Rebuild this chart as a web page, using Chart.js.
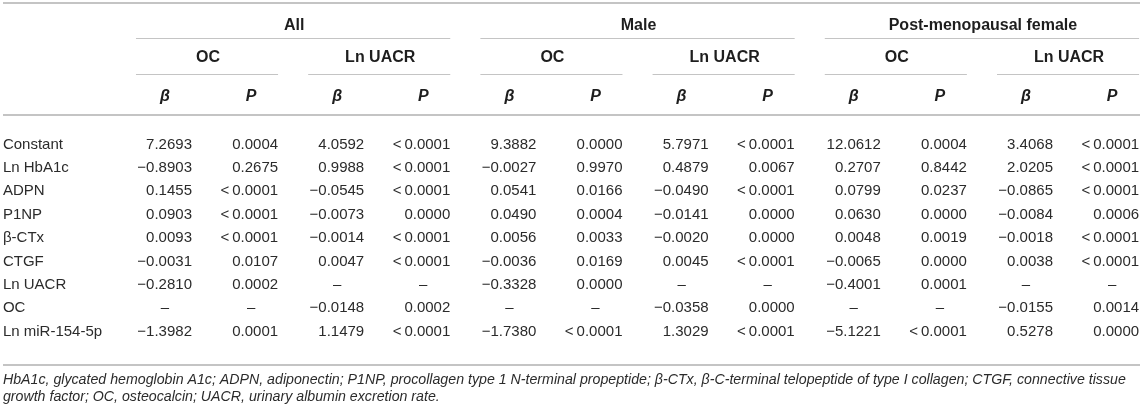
<!DOCTYPE html>
<html>
<head>
<meta charset="utf-8">
<script src="https://cdn.jsdelivr.net/npm/chart.js@4.4.1/dist/chart.umd.min.js"></script>
<style>
  html, body { margin: 0; padding: 0; background: #fff; }
  #wrap { width: 1143px; height: 407px; position: relative; }
</style>
</head>
<body>
<div id="wrap"><canvas id="tbl"></canvas></div>
<script>
// rows and column headings
const rowLabels = ["Constant", "Ln HbA1c", "ADPN", "P1NP", "β-CTx", "CTGF", "Ln UACR", "OC", "Ln miR-154-5p"];
const groups = ["All", "Male", "Post-menopausal female"];
const outcomes = ["OC", "Ln UACR"];
const statHeads = ["β", "P"];

// beta values (null = not in model) and P values, one array per column
const allOcBeta    = [7.2693, -0.8903, 0.1455, 0.0903, 0.0093, -0.0031, -0.2810, null, -1.3982];
const allOcP       = ["0.0004", "0.2675", "<0.0001", "<0.0001", "<0.0001", "0.0107", "0.0002", null, "0.0001"];
const allUacrBeta  = [4.0592, 0.9988, -0.0545, -0.0073, -0.0014, 0.0047, null, -0.0148, 1.1479];
const allUacrP     = ["<0.0001", "<0.0001", "<0.0001", "0.0000", "<0.0001", "<0.0001", null, "0.0002", "<0.0001"];
const maleOcBeta   = [9.3882, -0.0027, 0.0541, 0.0490, 0.0056, -0.0036, -0.3328, null, -1.7380];
const maleOcP      = ["0.0000", "0.9970", "0.0166", "0.0004", "0.0033", "0.0169", "0.0000", null, "<0.0001"];
const maleUacrBeta = [5.7971, 0.4879, -0.0490, -0.0141, -0.0020, 0.0045, null, -0.0358, 1.3029];
const maleUacrP    = ["<0.0001", "0.0067", "<0.0001", "0.0000", "0.0000", "<0.0001", null, "0.0000", "<0.0001"];
const postOcBeta   = [12.0612, 0.2707, 0.0799, 0.0630, 0.0048, -0.0065, -0.4001, null, -5.1221];
const postOcP      = ["0.0004", "0.8442", "0.0237", "0.0000", "0.0019", "0.0000", "0.0001", null, "<0.0001"];
const postUacrBeta = [3.4068, 2.0205, -0.0865, -0.0084, -0.0018, 0.0038, null, -0.0155, 0.5278];
const postUacrP    = ["<0.0001", "<0.0001", "<0.0001", "0.0006", "<0.0001", "<0.0001", null, "0.0014", "0.0000"];

const footnote = [
  "HbA1c, glycated hemoglobin A1c; ADPN, adiponectin; P1NP, procollagen type 1 N-terminal propeptide; β-CTx, β-C-terminal telopeptide of type I collagen; CTGF, connective tissue",
  "growth factor; OC, osteocalcin; UACR, urinary albumin excretion rate."
];

const columns = [allOcBeta, allOcP, allUacrBeta, allUacrP, maleOcBeta, maleOcP,
                 maleUacrBeta, maleUacrP, postOcBeta, postOcP, postUacrBeta, postUacrP];

function fmtBeta(v) {
  if (v === null) return null;
  return (v < 0 ? "\u2212" : "") + Math.abs(v).toFixed(4);
}
function fmtP(s) {
  if (s === null) return null;
  return s.replace("<", "<\u2009");
}

// layout in scale units (x: column index, y: body row index)
const lay = {
  groupRow: -5.1, outcomeRow: -3.7, statRow: -2.03,
  ruleTop: -6.05, ruleGroup: -4.55, ruleOutcome: -3.01, ruleHead: -1.26, ruleBottom: 9.42,
  note1: 10.06, note2: 10.79,
  labelX: -1.882, numShift: 27, lineLeft: 29, lineRight: 27
};

const FONT = "'Liberation Sans', Arial, Helvetica, sans-serif";
const textCol = "#2b2b2b";
const ruleCol = "#c4c4c4";

const datasets = columns.map((col, c) => ({
  label: "col" + c,
  data: col.map((v, r) => ({
    x: c, y: r,
    text: c % 2 === 0 ? fmtBeta(v) : fmtP(v)
  })),
  pointRadius: 0,
  pointHoverRadius: 0
}));

const tablePlugin = {
  id: "tableText",
  afterDatasetsDraw(chart) {
    const { ctx, scales: { x, y }, chartArea } = chart;
    ctx.save();
    ctx.textBaseline = "middle";

    // rules
    const hline = (yv, x1, x2, w) => {
      const py = Math.round(y.getPixelForValue(yv)) + (w % 2 ? 0.5 : 0);
      ctx.beginPath();
      ctx.lineWidth = w;
      ctx.strokeStyle = ruleCol;
      ctx.moveTo(x1, py);
      ctx.lineTo(x2, py);
      ctx.stroke();
    };
    const L = chartArea.left + 3, R = chartArea.right - 3;
    hline(lay.ruleTop, L, R, 2);
    hline(lay.ruleHead, L, R, 2);
    hline(lay.ruleBottom, L, R, 2);
    groups.forEach((g, gi) => {
      const c0 = gi * 4;
      hline(lay.ruleGroup, x.getPixelForValue(c0) - lay.lineLeft, x.getPixelForValue(c0 + 3) + lay.lineRight, 1);
      outcomes.forEach((o, oi) => {
        const c = c0 + oi * 2;
        hline(lay.ruleOutcome, x.getPixelForValue(c) - lay.lineLeft, x.getPixelForValue(c + 1) + lay.lineRight, 1);
      });
    });

    // header texts
    ctx.fillStyle = "#1e1e1e";
    ctx.textAlign = "center";
    ctx.font = "bold 16px " + FONT;
    groups.forEach((g, gi) => {
      const c0 = gi * 4;
      const cx = (x.getPixelForValue(c0) + x.getPixelForValue(c0 + 3)) / 2;
      ctx.fillText(g, cx, y.getPixelForValue(lay.groupRow));
      outcomes.forEach((o, oi) => {
        const c = c0 + oi * 2;
        const ox = (x.getPixelForValue(c) + x.getPixelForValue(c + 1)) / 2;
        ctx.fillText(o, ox, y.getPixelForValue(lay.outcomeRow));
      });
    });
    ctx.font = "italic bold 16px " + FONT;
    columns.forEach((col, c) => {
      ctx.fillText(statHeads[c % 2], x.getPixelForValue(c), y.getPixelForValue(lay.statRow));
    });

    // row labels
    ctx.fillStyle = textCol;
    ctx.font = "15px " + FONT;
    ctx.textAlign = "left";
    rowLabels.forEach((lab, r) => {
      ctx.fillText(lab, x.getPixelForValue(lay.labelX), y.getPixelForValue(r));
    });

    // cells
    chart.data.datasets.forEach((ds, di) => {
      const meta = chart.getDatasetMeta(di);
      meta.data.forEach((pt, i) => {
        const t = ds.data[i].text;
        if (t === null) {
          ctx.textAlign = "center";
          ctx.fillText("\u2013", pt.x, pt.y);
        } else {
          ctx.textAlign = "right";
          ctx.fillText(t, pt.x + lay.numShift, pt.y);
        }
      });
    });

    // footnote
    ctx.font = "italic 14.2px " + FONT;
    ctx.textAlign = "left";
    ctx.fillText(footnote[0], x.getPixelForValue(lay.labelX), y.getPixelForValue(lay.note1));
    ctx.fillText(footnote[1], x.getPixelForValue(lay.labelX), y.getPixelForValue(lay.note2));
    ctx.restore();
  }
};

new Chart(document.getElementById("tbl"), {
  type: "scatter",
  data: { datasets },
  options: {
    responsive: true,
    maintainAspectRatio: false,
    animation: false,
    events: [],
    layout: { padding: 0 },
    plugins: { legend: { display: false }, tooltip: { enabled: false } },
    scales: {
      x: { type: "linear", min: -1.916, max: 11.359, display: false },
      y: { type: "linear", reverse: true, min: -6.175, max: 11.218, display: false }
    }
  },
  plugins: [tablePlugin]
});
</script>
</body>
</html>
